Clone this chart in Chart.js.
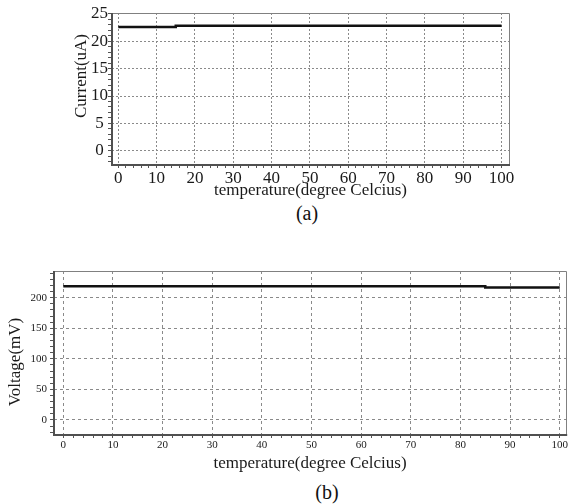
<!DOCTYPE html>
<html>
<head>
<meta charset="utf-8">
<script src="https://cdn.jsdelivr.net/npm/chart.js@4/dist/chart.umd.min.js"></script>
<style>
  html, body { margin: 0; padding: 0; background: #fff; }
  body { width: 569px; height: 504px; position: relative; overflow: hidden; font-family: 'Liberation Serif', serif; }
  .cv { position: absolute; left: 0; }
  .cap { position: absolute; font-family: 'Liberation Serif', serif; font-size: 20px; color: #111; transform: translate(-50%, -50%); white-space: nowrap; }
</style>
</head>
<body>
<canvas id="chartA" class="cv" style="top:0px"></canvas>
<canvas id="chartB" class="cv" style="top:255px"></canvas>
<div class="cap" style="left:307px; top:213px;">(a)</div>
<div class="cap" style="left:327px; top:492px;">(b)</div>
<script>
// ---- data ----
const temperatureA = [0, 15, 15, 100];
const currentA = [22.6, 22.6, 22.8, 22.8];
const temperatureB = [0, 85, 85, 100];
const voltageB = [218.5, 218.5, 216.5, 216.5];
const xTitle = 'temperature(degree Celcius)';
const yTitleA = 'Current(uA)';
const yTitleB = 'Voltage(mV)';

const FONT = "'Liberation Serif', 'Times New Roman', serif";

const framePlugin = {
  id: 'frame',
  beforeDatasetsDraw(chart, args, o) {
    const {ctx, chartArea: a} = chart;
    ctx.save();
    ctx.setLineDash([]);
    // top & right frame (thin grey)
    ctx.strokeStyle = o.color;
    ctx.lineWidth = 1;
    ctx.beginPath();
    ctx.moveTo(a.left, Math.round(a.top) + 0.5);
    ctx.lineTo(Math.round(a.right) + 0.5, Math.round(a.top) + 0.5);
    ctx.lineTo(Math.round(a.right) + 0.5, a.bottom);
    ctx.stroke();
    // left & bottom axis lines (solid, darker)
    ctx.strokeStyle = o.axisColor;
    ctx.lineWidth = 2;
    ctx.beginPath();
    ctx.moveTo(Math.round(a.left), a.top);
    ctx.lineTo(Math.round(a.left), Math.round(a.bottom));
    ctx.lineTo(a.right + 1, Math.round(a.bottom));
    ctx.stroke();
    ctx.restore();
  },
  afterDraw(chart, args, o) {
    const {ctx} = chart;
    ctx.save();
    ctx.translate(o.titleX, o.titleY);
    ctx.rotate(-Math.PI / 2);
    ctx.font = o.titleSize + 'px ' + FONT;
    ctx.fillStyle = '#1a1a1a';
    ctx.textAlign = 'center';
    ctx.textBaseline = 'middle';
    ctx.fillText(o.title, 0, 0);
    ctx.restore();
  }
};

function makeChart(id, w, h, cfg) {
  const cv = document.getElementById(id);
  cv.width = w; cv.height = h;
  cv.style.width = w + 'px'; cv.style.height = h + 'px';
  return new Chart(cv, {
    type: 'line',
    data: {
      datasets: [{
        data: cfg.xs.map((x, i) => ({x: x, y: cfg.ys[i]})),
        borderColor: '#111',
        borderWidth: 2.5,
        pointRadius: 0,
        fill: false,
        tension: 0
      }]
    },
    plugins: [framePlugin],
    options: {
      responsive: false,
      animation: false,
      devicePixelRatio: 1,
      layout: { padding: cfg.padding },
      plugins: {
        legend: { display: false },
        tooltip: { enabled: false },
        frame: { color: '#808080', axisColor: '#505050', title: cfg.yTitle, titleX: cfg.yTitleX, titleY: cfg.yTitleY, titleSize: cfg.titleSize }
      },
      scales: {
        x: {
          type: 'linear',
          min: cfg.xMin, max: cfg.xMax,
          afterFit: s => { s.height = cfg.xAxisH; },
          ticks: {
            stepSize: 2, includeBounds: false, autoSkip: false, maxRotation: 0,
            padding: cfg.xTickPad,
            color: '#1a1a1a',
            font: { family: FONT, size: cfg.tickSize },
            callback: v => (Math.round(v) % 10 === 0 ? String(Math.round(v)) : '')
          },
          grid: {
            color: c => (c.tick && Math.round(c.tick.value) % 10 === 0 ? '#8a8a8a' : 'rgba(0,0,0,0)'),
            tickColor: '#555',
            tickLength: 3,
            lineWidth: 1
          },
          border: { display: false, dash: cfg.dash },
          title: {
            display: true, text: xTitle, color: '#1a1a1a', padding: 0,
            font: { family: FONT, size: cfg.titleSize }
          }
        },
        y: {
          type: 'linear',
          min: cfg.yMin, max: cfg.yMax,
          afterFit: s => { s.width = cfg.yAxisW; },
          ticks: {
            stepSize: cfg.yMinor, includeBounds: false, autoSkip: false,
            padding: cfg.yTickPad,
            crossAlign: cfg.crossAlign,
            color: '#1a1a1a',
            font: { family: FONT, size: cfg.tickSize },
            callback: v => (Math.round(v) % cfg.yMajor === 0 ? String(Math.round(v)) : '')
          },
          grid: {
            color: c => (c.tick && Math.round(c.tick.value) % cfg.yMajor === 0 ? '#8a8a8a' : 'rgba(0,0,0,0)'),
            tickColor: '#555',
            tickLength: 4,
            lineWidth: 1
          },
          border: { display: false, dash: cfg.dash }
        }
      }
    }
  });
}

// Chart (a): plot area ~ x 112..509, y 13..164
makeChart('chartA', 569, 201, {
  xs: temperatureA, ys: currentA,
  xMin: -1.64, xMax: 101.96, yMin: -2.57, yMax: 25.13,
  yMinor: 1, yMajor: 5,
  xAxisH: 36, yAxisW: 24,
  padding: { left: 112 - 24, right: 569 - 509, top: 13, bottom: 0 },
  tickSize: 17, titleSize: 17, xTickPad: 0, yTickPad: 0, crossAlign: 'center',
  dash: [2, 2],
  yTitle: yTitleA, yTitleX: 82, yTitleY: 76
});

// Chart (b): plot area ~ x 54..568, y 271..434 (canvas top at 255)
makeChart('chartB', 569, 219, {
  xs: temperatureB, ys: voltageB,
  xMin: -1.87, xMax: 101.3, yMin: -24.6, yMax: 243.6,
  yMinor: 10, yMajor: 50,
  xAxisH: 39, yAxisW: 30,
  padding: { left: 54 - 30, right: 1, top: 16, bottom: 0 },
  tickSize: 11, titleSize: 17, xTickPad: 1, yTickPad: 3, crossAlign: 'near',
  dash: [3, 3],
  yTitle: yTitleB, yTitleX: 16, yTitleY: 362 - 255
});
</script>
</body>
</html>
